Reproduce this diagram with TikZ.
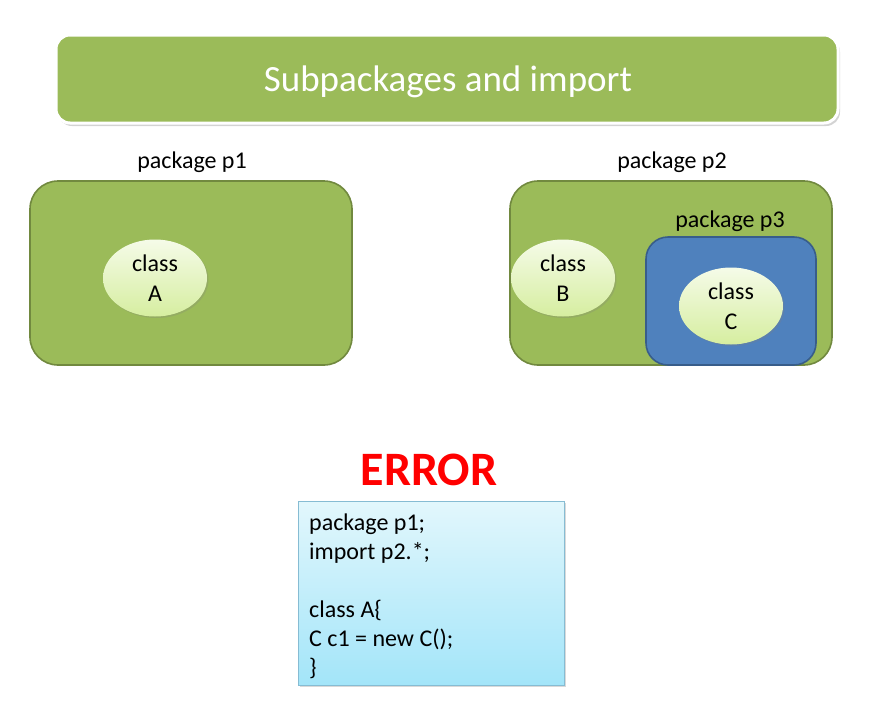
\documentclass[tikz,border=0pt]{standalone}
\usepackage{fontspec}
\setmainfont{Carlito}
\usetikzlibrary{shapes.geometric,shadows,positioning}
\definecolor{pkggreen}{HTML}{9BBB59}
\definecolor{pkgedge}{HTML}{71893F}
\definecolor{pkgblue}{HTML}{4F81BD}
\definecolor{blueedge}{HTML}{385D8A}
\definecolor{clstop}{HTML}{F5FBE8}
\definecolor{clsbot}{HTML}{D6EEA0}
\definecolor{codetop}{HTML}{E2F7FC}
\definecolor{codebot}{HTML}{A3E5F9}
\definecolor{codeedge}{HTML}{86BCD3}
\definecolor{errred}{HTML}{FF0000}
\tikzset{
  pkgbox/.style={draw=pkgedge, line width=1.6pt, fill=pkggreen, rounded corners=28pt},
  subbox/.style={draw=blueedge, line width=1.6pt, fill=pkgblue, rounded corners=22pt},
  clsnode/.style={ellipse, minimum width=104pt, minimum height=77pt, inner sep=0pt,
    top color=clstop, bottom color=clsbot, draw=none,
    drop shadow={shadow xshift=1.5pt, shadow yshift=-1.5pt, opacity=0.25},
    align=center, font=\fontsize{24}{30}\selectfont},
  pkglabel/.style={font=\fontsize{24}{28}\selectfont, inner sep=0pt},
  codebox/.style={draw=codeedge, line width=1pt, top color=codetop, bottom color=codebot,
    drop shadow={shadow xshift=2pt, shadow yshift=-2pt, opacity=0.3}}
}
\begin{document}
\begin{tikzpicture}[x=1pt,y=-1pt]
\useasboundingbox (0,0) rectangle (879,705);
% title
\path[draw=white, line width=3pt, fill=pkggreen, rounded corners=14pt,
  drop shadow={shadow xshift=2pt, shadow yshift=-3pt, opacity=0.35}]
  (56,35) rectangle (838,123);
\node[text=white, font=\fontsize{37}{44}\selectfont, inner sep=0pt] (title) at (448,82) {Subpackages and import};
% package p1
\path[pkgbox] (30,181) rectangle (352,365);
\node[pkglabel] (p1lab) at (192,162) {package p1};
\node[clsnode] (clsA) at (155,278) {class\\A};
% package p2
\path[pkgbox] (510,181) rectangle (832,365);
\node[pkglabel] (p2lab) at (672,162) {package p2};
\node[clsnode] (clsB) at (563,278) {class\\B};
% package p3
\path[subbox] (646,237) rectangle (816,365);
\node[pkglabel] (p3lab) at (730,221) {package p3};
\node[clsnode] (clsC) at (731,306) {class\\C};
% error
\node[text=errred, font=\bfseries\fontsize{48}{56}\selectfont, inner sep=0pt] (err) at (429,470) {ERROR};
\path[codebox] (298,501) rectangle (564,685);
\node[anchor=north west, align=left, inner sep=0pt, font=\fontsize{24}{29}\selectfont] (code) at (309,514)
  {package p1;\\import p2.*;\\[29pt]class A\{\\C c1 = new C();\\\}};
\end{tikzpicture}
\end{document}
